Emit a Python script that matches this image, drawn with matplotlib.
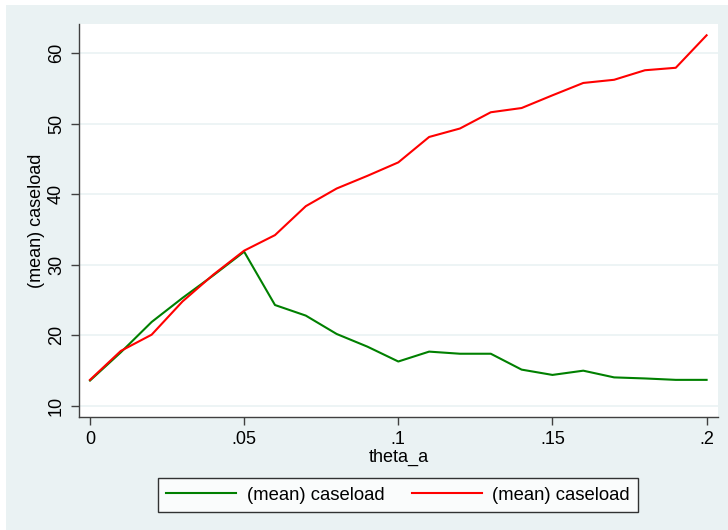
import matplotlib
matplotlib.use("Agg")
import matplotlib.pyplot as plt
from matplotlib.patches import Rectangle

plt.rcParams['font.family'] = ['Liberation Sans', 'DejaVu Sans']

theta_a = [0.00, 0.01, 0.02, 0.03, 0.04, 0.05, 0.06, 0.07, 0.08, 0.09, 0.10,
           0.11, 0.12, 0.13, 0.14, 0.15, 0.16, 0.17, 0.18, 0.19, 0.20]
caseload_green = [13.6, 17.6, 21.9, 25.3, 28.5, 31.85, 24.3, 22.8, 20.2, 18.4, 16.3,
                  17.7, 17.4, 17.4, 15.15, 14.4, 15.0, 14.05, 13.9, 13.7, 13.7]
caseload_red = [13.7, 17.8, 20.1, 24.8, 28.6, 32.0, 34.2, 38.3, 40.8, 42.6, 44.5,
                48.1, 49.3, 51.6, 52.2, 54.0, 55.75, 56.2, 57.55, 57.9, 62.5]
legend_labels = ["(mean) caseload", "(mean) caseload"]
xticks = [0, 0.05, 0.10, 0.15, 0.20]
xtick_labels = ["0", ".05", ".1", ".15", ".2"]
yticks = [10, 20, 30, 40, 50, 60]

W, H = 728, 530
fig = plt.figure(figsize=(W / 100, H / 100), dpi=100)
fig.patch.set_facecolor('white')
bg = '#EAF2F3'
fig.add_artist(Rectangle((6 / W, 0), 1 - 6 / W, 1 - 5 / H, transform=fig.transFigure,
                         facecolor=bg, edgecolor='none', zorder=0))

left, right, top, bottom = 79, 718, 24, 417
ax = fig.add_axes([left / W, 1 - bottom / H, (right - left) / W, (bottom - top) / H])
ax.set_facecolor('white')

ax.plot(theta_a, caseload_green, color='#008000', lw=1.5, label=legend_labels[0], zorder=3)
ax.plot(theta_a, caseload_red, color='#FF0000', lw=1.5, label=legend_labels[1], zorder=3)

ax.set_xlim(-0.00357, 0.2037)
ax.set_ylim(8.44, 64.1)
ax.set_xticks(xticks)
ax.set_xticklabels(xtick_labels)
ax.set_yticks(yticks)
ax.set_yticklabels([str(v) for v in yticks], rotation=90, va='center')
ax.grid(axis='y', color=bg, lw=1.2, zorder=1)
ax.set_axisbelow(True)

for s in ['top', 'right']:
    ax.spines[s].set_visible(False)
for s in ['left', 'bottom']:
    ax.spines[s].set_color('#404040')
    ax.spines[s].set_linewidth(1.0)
ax.tick_params(axis='both', direction='out', length=6, width=1.0, color='#404040',
               labelsize=13, labelcolor='black', pad=4)

ax.set_xlabel("theta_a", fontsize=13, labelpad=1)
ax.set_ylabel("(mean) caseload", fontsize=13, labelpad=2)

handles, labels = ax.get_legend_handles_labels()
leg = fig.legend(handles, labels, loc='center', ncol=2,
                 bbox_to_anchor=((157 + 639) / 2 / W, 1 - (478 + 512) / 2 / H),
                 frameon=True, fancybox=False, fontsize=13.3, handlelength=3.8,
                 columnspacing=1.5, handletextpad=0.55, borderpad=0.45)
leg.get_frame().set_edgecolor('black')
leg.get_frame().set_linewidth(1.0)
leg.get_frame().set_facecolor('white')

fig.savefig("out.png", dpi=100, facecolor=fig.get_facecolor())
